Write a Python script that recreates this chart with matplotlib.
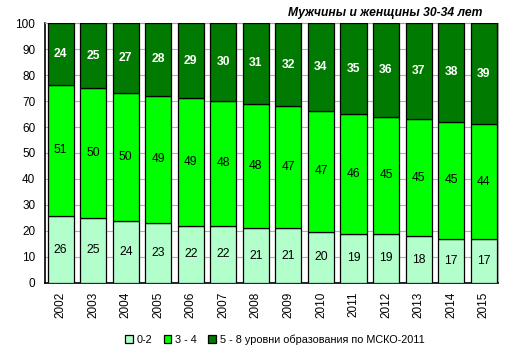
import numpy as np
import matplotlib.pyplot as plt

plt.rcParams['font.family'] = ['Liberation Sans', 'DejaVu Sans']

years = ['2002', '2003', '2004', '2005', '2006', '2007', '2008',
         '2009', '2010', '2011', '2012', '2013', '2014', '2015']
low = [26, 25, 24, 23, 22, 22, 21, 21, 20, 19, 19, 18, 17, 17]
mid = [51, 50, 50, 49, 49, 48, 48, 47, 47, 46, 45, 45, 45, 44]
high = [24, 25, 27, 28, 29, 30, 31, 32, 34, 35, 36, 37, 38, 39]
labels = ['0-2', '3 - 4', '5 - 8 уровни образования по МСКО-2011']
colors = ['#B3FFCC', '#00FF00', '#007A00']
text_colors = ['black', 'black', 'white']

# rounded shares don't always add to 100, so rescale each year
data = np.array([low, mid, high], dtype=float)
shares = data / data.sum(axis=0) * 100

fig = plt.figure(figsize=(5.13, 3.54), dpi=100)
ax = fig.add_axes([0.0877, 0.2006, 0.883, 0.7344])

x = np.arange(len(years))
bottom = np.zeros(len(years))
for i in range(3):
    ax.bar(x, shares[i], 0.8, bottom=bottom, color=colors[i],
           edgecolor='black', linewidth=0.9, label=labels[i], zorder=3)
    for xi, b, h, v in zip(x, bottom, shares[i], data[i]):
        ax.text(xi, b + h / 2, f'{v:.0f}', ha='center', va='center',
                fontsize=8.7, color=text_colors[i],
                fontweight='bold' if i == 2 else 'normal', zorder=4)
    bottom += shares[i]

ax.set_xlim(-0.48, 13.44)
ax.set_ylim(0, 100)
ax.set_yticks(range(0, 101, 10))
ax.set_xticks(x)
ax.set_xticklabels(years, rotation=90)
ax.tick_params(axis='both', labelsize=8.5, length=0)
ax.tick_params(axis='y', pad=7)
ax.tick_params(axis='x', pad=6)
ax.grid(axis='y', color='#B0B0B0', linewidth=0.8, zorder=0)
for s in ['top', 'right']:
    ax.spines[s].set_color('#A0A0A0')
for s in ['left', 'bottom']:
    ax.spines[s].set_color('black')
    ax.spines[s].set_linewidth(1.2)

fig.text(0.94, 0.963, 'Мужчины и женщины 30-34 лет', ha='right', va='center',
         fontsize=8.7, fontweight='bold', fontstyle='italic')

fig.legend(loc='center', bbox_to_anchor=(0.536, 0.04), ncol=3, fontsize=7.8,
           frameon=False, handlelength=0.7, handleheight=0.7,
           handletextpad=0.4, columnspacing=1.0)

fig.savefig('out.png', dpi=100)
